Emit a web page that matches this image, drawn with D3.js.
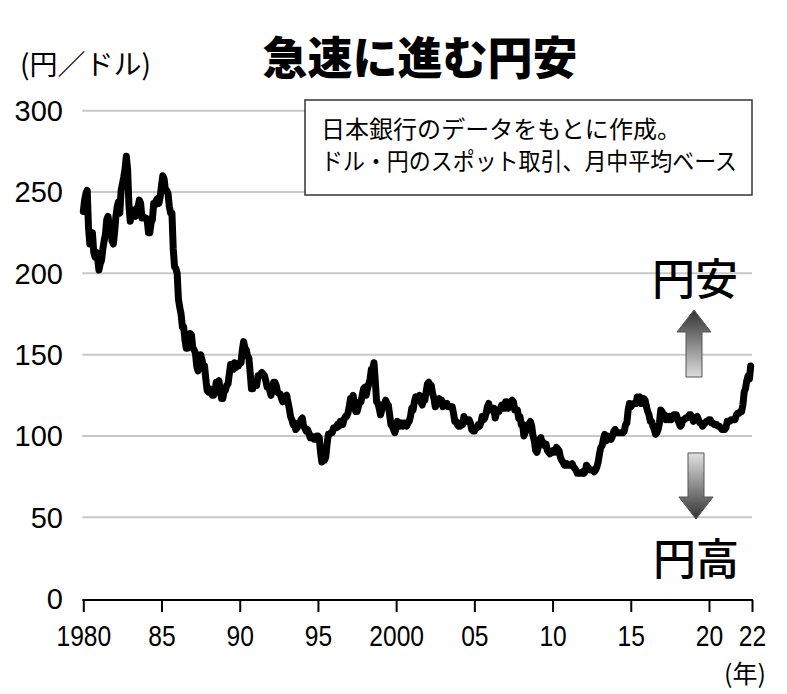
<!DOCTYPE html>
<html>
<head>
<meta charset="utf-8">
<script src="https://cdn.jsdelivr.net/npm/d3@7"></script>
<style>
  body { margin: 0; background: #fff; }
  svg { display: block; }
</style>
</head>
<body>
<div id="chart"></div>
<script>
// monthly average, dollar / yen spot (Bank of Japan), Jan 1980 .. Sep 2022
var startYear = 1980;
var monthlyRate = [
  238, 245, 249, 251, 228, 218, 220, 225, 213, 210, 213, 209,   // 1980
  202, 206, 208, 215, 220, 224, 233, 235, 229, 231, 220, 218,   // 1981
  225, 235, 241, 244, 237, 251, 255, 259, 264, 272, 264, 242,   // 1982
  232, 236, 239, 238, 235, 240, 241, 245, 243, 234, 235, 234,   // 1983
  234, 233, 225, 225, 231, 233, 243, 242, 245, 246, 243, 247,   // 1984
  254, 260, 258, 251, 251, 249, 241, 237, 237, 215, 204, 203,   // 1985
  200, 184, 179, 175, 167, 167, 159, 154, 154, 156, 163, 162,   // 1986
  154, 153, 151, 143, 140, 144, 150, 147, 143, 143, 135, 128,   // 1987
  127, 129, 128, 125, 125, 127, 133, 133, 134, 129, 123, 123,   // 1988
  127, 128, 131, 132, 138, 144, 141, 141, 145, 142, 143, 143,   // 1989
  145, 145, 153, 158, 154, 153, 149, 148, 139, 129, 129, 133,   // 1990
  134, 131, 137, 137, 138, 139, 138, 137, 134, 130, 130, 128,   // 1991
  125, 128, 133, 133, 131, 127, 126, 126, 123, 121, 124, 124,   // 1992
  125, 121, 117, 112, 110, 107, 108, 104, 105, 107, 108, 110,   // 1993
  111, 106, 105, 103, 104, 102,  99, 100,  99,  98,  98, 100,   // 1994
  100,  99,  90,  84,  85,  85,  87,  95, 101, 101, 102, 102,   // 1995
  105, 105, 105, 107, 106, 109, 109, 107, 110, 112, 112, 114,   // 1996
  118, 123, 122, 125, 119, 115, 115, 118, 121, 121, 125, 129,   // 1997
  130, 125, 129, 132, 135, 141, 141, 145, 134, 121, 120, 117,   // 1998
  113, 116, 119, 120, 122, 120, 119, 113, 107, 106, 104, 102,   // 1999
  105, 109, 106, 106, 108, 106, 108, 108, 106, 108, 109, 112,   // 2000
  117, 116, 121, 124, 122, 122, 125, 121, 119, 122, 122, 127,   // 2001
  132, 133, 131, 131, 126, 123, 118, 119, 120, 123, 121, 122,   // 2002
  118, 119, 119, 120, 118, 118, 118, 118, 114, 109, 109, 107,   // 2003
  106, 106, 108, 107, 112, 109, 109, 110, 110, 108, 104, 103,   // 2004
  103, 105, 105, 107, 106, 108, 112, 110, 111, 114, 118, 120,   // 2005
  116, 117, 117, 117, 111, 114, 115, 115, 117, 119, 117, 117,   // 2006
  121, 121, 117, 119, 121, 122, 121, 116, 116, 116, 111, 112,   // 2007
  107, 107, 100, 102, 104, 107, 106, 109, 106, 100,  97,  91,   // 2008
   90,  93,  98,  99,  96,  96,  94,  95,  91,  90,  89,  90,   // 2009
   91,  90,  90,  93,  92,  91,  87,  85,  84,  82,  82,  83,   // 2010
   82,  82,  82,  83,  81,  80,  79,  77,  77,  77,  77,  78,   // 2011
   77,  78,  82,  81,  80,  79,  79,  79,  78,  79,  81,  84,   // 2012
   89,  93,  94,  98, 101,  97, 100,  98,  99,  98, 100, 103,   // 2013
  104, 102, 102, 102, 102, 102, 102, 103, 107, 108, 116, 120,   // 2014
  118, 119, 120, 120, 120, 124, 123, 124, 120, 120, 123, 122,   // 2015
  118, 115, 113, 109, 109, 106, 104, 101, 102, 104, 108, 116,   // 2016
  115, 113, 113, 110, 112, 110, 112, 110, 111, 113, 113, 113,   // 2017
  110, 108, 106, 107, 110, 110, 111, 111, 112, 113, 113, 112,   // 2018
  109, 110, 111, 112, 110, 108, 108, 106, 107, 108, 109, 109,   // 2019
  110, 110, 108, 108, 107, 107, 107, 106, 106, 105, 104, 104,   // 2020
  104, 105, 109, 109, 109, 110, 110, 110, 110, 113, 114, 114,   // 2021
  115, 115, 119, 127, 129, 134, 137, 135, 143                   // 2022
];

var xTickYears = [1980, 1985, 1990, 1995, 2000, 2005, 2010, 2015, 2020, 2022.75];
var xTickLabels = ["1980", "85", "90", "95", "2000", "05", "10", "15", "20", "22"];
var yTicks = [0, 50, 100, 150, 200, 250, 300];

var titleText = "急速に進む円安";
var unitText = "(円／ドル)";
var yearUnitText = "(年)";
var noteLines = ["日本銀行のデータをもとに作成。", "ドル・円のスポット取引、月中平均ベース"];

var width = 787, height = 694;
var cjk = "'Noto Sans CJK JP', 'Noto Sans', sans-serif";
var latin = "'Liberation Sans', Arial, sans-serif";

var svg = d3.select("#chart").append("svg")
    .attr("width", width)
    .attr("height", height);

var x = d3.scaleLinear()
    .domain([1980, 2022.75])
    .range([83.3, 752]);

var y = d3.scaleLinear()
    .domain([0, 300])
    .range([598.6, 110.7]);

// gradients for the arrows
var defs = svg.append("defs");
var gUp = defs.append("linearGradient").attr("id", "gradUp")
    .attr("x1", 0).attr("y1", 0).attr("x2", 0).attr("y2", 1);
gUp.append("stop").attr("offset", "0%").attr("stop-color", "#333");
gUp.append("stop").attr("offset", "100%").attr("stop-color", "#dcdcdc");
var gDown = defs.append("linearGradient").attr("id", "gradDown")
    .attr("x1", 0).attr("y1", 0).attr("x2", 0).attr("y2", 1);
gDown.append("stop").attr("offset", "0%").attr("stop-color", "#e2e2e2");
gDown.append("stop").attr("offset", "100%").attr("stop-color", "#333");

// gridlines
svg.append("g")
  .selectAll("line")
  .data(yTicks.filter(function(d) { return d > 0; }))
  .enter().append("line")
    .attr("x1", x(1980) - 1)
    .attr("x2", x(2022.75))
    .attr("y1", function(d) { return y(d); })
    .attr("y2", function(d) { return y(d); })
    .attr("stroke", "#c8c8c8")
    .attr("stroke-width", 2);

// y labels
svg.append("g")
  .selectAll("text")
  .data(yTicks)
  .enter().append("text")
    .attr("x", 63)
    .attr("y", function(d) { return y(d); })
    .attr("dy", "0.36em")
    .attr("text-anchor", "end")
    .attr("font-family", latin)
    .attr("font-size", 29)
    .attr("fill", "#000")
    .text(function(d) { return d; });

// x axis
var xAxis = d3.axisBottom(x)
    .tickValues(xTickYears)
    .tickSize(12)
    .tickFormat(function(d, i) { return xTickLabels[i]; });

var ax = svg.append("g")
    .attr("transform", "translate(0," + 600 + ")")
    .call(xAxis);
ax.select(".domain")
    .attr("d", "M" + (x(1980) - 1) + ",0H" + (x(2022.75) + 1))
    .attr("stroke", "#000")
    .attr("stroke-width", 2);
ax.selectAll(".tick line")
    .attr("stroke", "#000")
    .attr("stroke-width", 2);
ax.selectAll(".tick text")
    .attr("y", 0)
    .attr("dy", 0)
    .attr("font-family", latin)
    .attr("font-size", 30)
    .attr("fill", "#000")
    .attr("transform", "translate(0,46) scale(0.82,1)");

svg.append("text")
    .attr("x", 745)
    .attr("y", 683)
    .attr("text-anchor", "middle")
    .attr("font-family", cjk)
    .attr("font-size", 25)
    .text(yearUnitText);

// the rate line
var line = d3.line()
    .x(function(d, i) { return x(startYear + i / 12); })
    .y(function(d) { return y(d); });

svg.append("path")
    .datum(monthlyRate)
    .attr("d", line)
    .attr("fill", "none")
    .attr("stroke", "#000")
    .attr("stroke-width", 7)
    .attr("stroke-linejoin", "round")
    .attr("stroke-linecap", "round");

// note box
svg.append("rect")
    .attr("x", 305)
    .attr("y", 100)
    .attr("width", 447)
    .attr("height", 95)
    .attr("fill", "#fff")
    .attr("stroke", "#333")
    .attr("stroke-width", 1.5);

svg.append("g")
  .selectAll("text")
  .data(noteLines)
  .enter().append("text")
    .attr("x", 321)
    .attr("y", function(d, i) { return 127 + i * 32; })
    .attr("dominant-baseline", "central")
    .attr("font-family", cjk)
    .attr("font-size", 24)
    .attr("textLength", function(d, i) { return i === 0 ? 360 : 416; })
    .attr("lengthAdjust", "spacingAndGlyphs")
    .text(function(d) { return d; });

// titles
svg.append("text")
    .attr("x", 420)
    .attr("y", 55)
    .attr("dominant-baseline", "central")
    .attr("text-anchor", "middle")
    .attr("font-family", cjk)
    .attr("font-weight", 900)
    .attr("font-size", 45)
    .text(titleText);

svg.append("text")
    .attr("x", 20)
    .attr("y", 63)
    .attr("dominant-baseline", "central")
    .attr("font-family", cjk)
    .attr("font-size", 28)
    .text(unitText);

// 円安 / 円高 annotations
svg.append("text")
    .attr("x", 695)
    .attr("y", 276)
    .attr("dominant-baseline", "central")
    .attr("text-anchor", "middle")
    .attr("font-family", cjk)
    .attr("font-weight", 500)
    .attr("font-size", 43)
    .text("円安");

svg.append("text")
    .attr("x", 696)
    .attr("y", 556)
    .attr("dominant-baseline", "central")
    .attr("text-anchor", "middle")
    .attr("font-family", cjk)
    .attr("font-weight", 500)
    .attr("font-size", 43)
    .text("円高");

var upArrow = [[694, 310], [711, 332], [702, 332], [702, 377], [686, 377], [686, 332], [677, 332]];
var downArrow = [[688, 453], [704, 453], [704, 497], [713, 497], [696, 519], [679, 497], [688, 497]];

svg.append("polygon")
    .attr("points", upArrow.map(function(p) { return p.join(","); }).join(" "))
    .attr("fill", "url(#gradUp)")
    .attr("stroke", "#555")
    .attr("stroke-width", 1);

svg.append("polygon")
    .attr("points", downArrow.map(function(p) { return p.join(","); }).join(" "))
    .attr("fill", "url(#gradDown)")
    .attr("stroke", "#555")
    .attr("stroke-width", 1);
</script>
</body>
</html>
